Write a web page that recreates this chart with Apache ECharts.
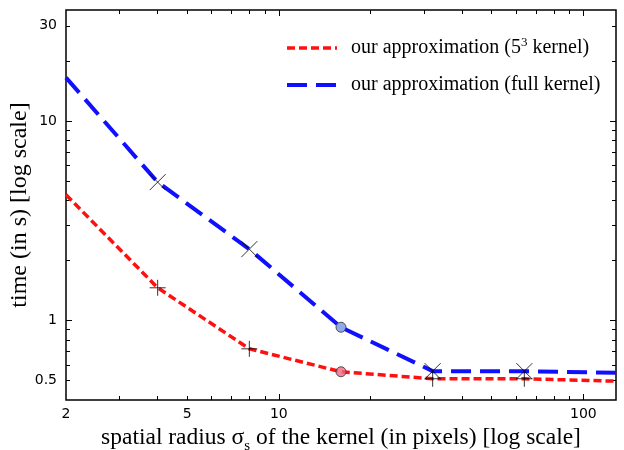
<!DOCTYPE html>
<html>
<head>
<meta charset="utf-8">
<script src="https://cdn.jsdelivr.net/npm/echarts@6/dist/echarts.min.js"></script>
<style>
  html, body { margin: 0; padding: 0; background: #fff; }
  #chart { width: 624px; height: 450px; }
</style>
</head>
<body>
<div id="chart"></div>
<script>
// Kernel radius (pixels) at which each timing was taken
const radii = [2, 4, 8, 16, 32, 64, 128];
// Running time in seconds, 5^3 kernel approximation
const timeSmallKernel = [4.27, 1.46, 0.722, 0.554, 0.511, 0.511, 0.497];
// Running time in seconds, full kernel approximation
const timeFullKernel = [16.5, 4.94, 2.28, 0.926, 0.558, 0.558, 0.547];
// Radii marked with crosses, and the radius marked with a dot
const crossRadii = [4, 8, 32, 64];
const dotRadius = 16;

// Axis ranges and tick positions (in data units)
const xRange = [2, 128];
const yRange = [0.4, 36];
const xLabelTicks = [2, 5, 10, 100];
const xMajorTicks = [10, 100];
const xMinorTicks = [3, 4, 5, 6, 7, 8, 9, 20, 30, 40, 50, 60, 70, 80, 90];
const yLabelTicks = [0.5, 1, 10, 30];
const yMajorTicks = [1, 10];
const yMinorTicks = [0.5, 0.6, 0.7, 0.8, 0.9, 2, 3, 4, 5, 6, 7, 8, 9, 20, 30];

const seriesNames = ['our approximation (5\u00B3 kernel)', 'our approximation (full kernel)'];

const log10 = Math.log10;
const pairs = (xs, ys) => xs.map((x, i) => [x, ys[i]]);
const pick = (xs, ys, keep) => pairs(xs, ys).filter(p => keep.includes(p[0]));

const labelFont = { fontFamily: 'DejaVu Sans', fontSize: 14, color: '#000' };
const serif = 'Liberation Serif';

// Tick/label overlay axes work in log10 space on top of the log data axes
function overlayAxis(range, opts) {
  const base = {
    type: 'value',
    min: log10(range[0]),
    max: log10(range[1]),
    axisLine: { show: false, onZero: false },
    splitLine: { show: false },
    axisTick: {
      show: true, inside: true, length: opts.tickLen,
      lineStyle: { color: '#000', width: 1 },
      customValues: opts.ticks.map(log10)
    },
    axisLabel: opts.labels ? Object.assign({
      show: true,
      customValues: opts.labels.map(log10),
      formatter: v => String(Math.round(Math.pow(10, v) * 10) / 10)
    }, labelFont, opts.labelExtra || {}) : { show: false },
    position: opts.position
  };
  return Object.assign(base, opts.extra || {});
}

const xAxes = [
  { type: 'log', logBase: 10, min: xRange[0], max: xRange[1], show: false },
  overlayAxis(xRange, {
    position: 'bottom', ticks: xMajorTicks, tickLen: 6, labels: xLabelTicks,
    labelExtra: { margin: 7 },
    extra: {
      name: '{n|spatial radius \u03C3}{sub|s}{n| of the kernel (in pixels) [log scale]}',
      nameLocation: 'middle',
      nameGap: 22,
      nameTextStyle: {
        rich: {
          n: { fontFamily: serif, fontSize: 23.5, color: '#000', lineHeight: 32, verticalAlign: 'middle' },
          sub: { fontFamily: serif, fontSize: 15, color: '#000', lineHeight: 15, verticalAlign: 'bottom' }
        }
      }
    }
  }),
  overlayAxis(xRange, { position: 'bottom', ticks: xMinorTicks, tickLen: 4 }),
  overlayAxis(xRange, { position: 'top', ticks: xMajorTicks, tickLen: 6 }),
  overlayAxis(xRange, { position: 'top', ticks: xMinorTicks, tickLen: 4 })
];

const yAxes = [
  { type: 'log', logBase: 10, min: yRange[0], max: yRange[1], show: false },
  overlayAxis(yRange, {
    position: 'left', ticks: yMajorTicks, tickLen: 6, labels: yLabelTicks,
    labelExtra: { margin: 9 },
    extra: {
      name: 'time (in s) [log scale]',
      nameLocation: 'middle',
      nameGap: 34,
      nameMoveOverlap: false,
      nameTextStyle: { fontFamily: serif, fontSize: 24, color: '#000' }
    }
  }),
  overlayAxis(yRange, { position: 'left', ticks: yMinorTicks, tickLen: 4 }),
  overlayAxis(yRange, { position: 'right', ticks: yMajorTicks, tickLen: 6 }),
  overlayAxis(yRange, { position: 'right', ticks: yMinorTicks, tickLen: 4 })
];

const plusPath = 'path://M0,5H10M5,0V10';
const crossPath = 'path://M0,0L10,10M10,0L0,10';
const markStyle = { color: 'none', borderColor: '#000', borderWidth: 1 };

const option = {
  animation: false,
  backgroundColor: '#fff',
  grid: {
    left: 66, right: 8, top: 10, bottom: 50,
    outerBoundsMode: 'none',
    containLabel: false,
    show: true, borderColor: '#000', borderWidth: 1.5, backgroundColor: 'transparent'
  },
  xAxis: xAxes,
  yAxis: yAxes,
  legend: {
    orient: 'vertical',
    left: 285, top: 36, padding: 0,
    itemWidth: 50, itemHeight: 14, itemGap: 17,
    data: seriesNames,
    itemStyle: { opacity: 0 },
    lineStyle: { width: 'inherit', type: 'inherit' },
    formatter: name => name === seriesNames[0]
      ? '{n|our approximation (5}{sup|3}{n| kernel)}'
      : '{n|our approximation (full kernel)}',
    textStyle: {
      padding: [0, 0, 0, 9],
      rich: {
        n: { fontFamily: serif, fontSize: 20, color: '#000', lineHeight: 24, verticalAlign: 'middle' },
        sup: { fontFamily: serif, fontSize: 13, color: '#000', lineHeight: 12, verticalAlign: 'top' }
      }
    }
  },
  series: [
    {
      name: seriesNames[0], type: 'line', xAxisIndex: 0, yAxisIndex: 0,
      data: pairs(radii, timeSmallKernel), symbol: 'none',
      lineStyle: { color: '#ff1010', width: 3.5, type: [8, 4] },
      itemStyle: { color: '#ff1010' }, z: 2
    },
    {
      name: seriesNames[1], type: 'line', xAxisIndex: 0, yAxisIndex: 0,
      data: pairs(radii, timeFullKernel), symbol: 'none',
      lineStyle: { color: '#1010ff', width: 4, type: [20, 9] },
      itemStyle: { color: '#1010ff' }, z: 2
    },
    {
      type: 'scatter', xAxisIndex: 0, yAxisIndex: 0, silent: true, z: 3,
      data: pick(radii, timeSmallKernel, crossRadii),
      symbol: plusPath, symbolSize: 16, itemStyle: markStyle
    },
    {
      type: 'scatter', xAxisIndex: 0, yAxisIndex: 0, silent: true, z: 3,
      data: pick(radii, timeFullKernel, crossRadii),
      symbol: crossPath, symbolSize: 16, itemStyle: markStyle
    },
    {
      type: 'scatter', xAxisIndex: 0, yAxisIndex: 0, silent: true, z: 4,
      data: pick(radii, timeSmallKernel, [dotRadius]),
      symbol: 'circle', symbolSize: 10,
      itemStyle: { color: '#ee6a86', borderColor: '#333', borderWidth: 1 }
    },
    {
      type: 'scatter', xAxisIndex: 0, yAxisIndex: 0, silent: true, z: 4,
      data: pick(radii, timeFullKernel, [dotRadius]),
      symbol: 'circle', symbolSize: 10,
      itemStyle: { color: '#7494e8', borderColor: '#333', borderWidth: 1 }
    }
  ]
};

const chart = echarts.init(document.getElementById('chart'), null, { renderer: 'canvas' });
chart.setOption(option);
</script>
</body>
</html>
